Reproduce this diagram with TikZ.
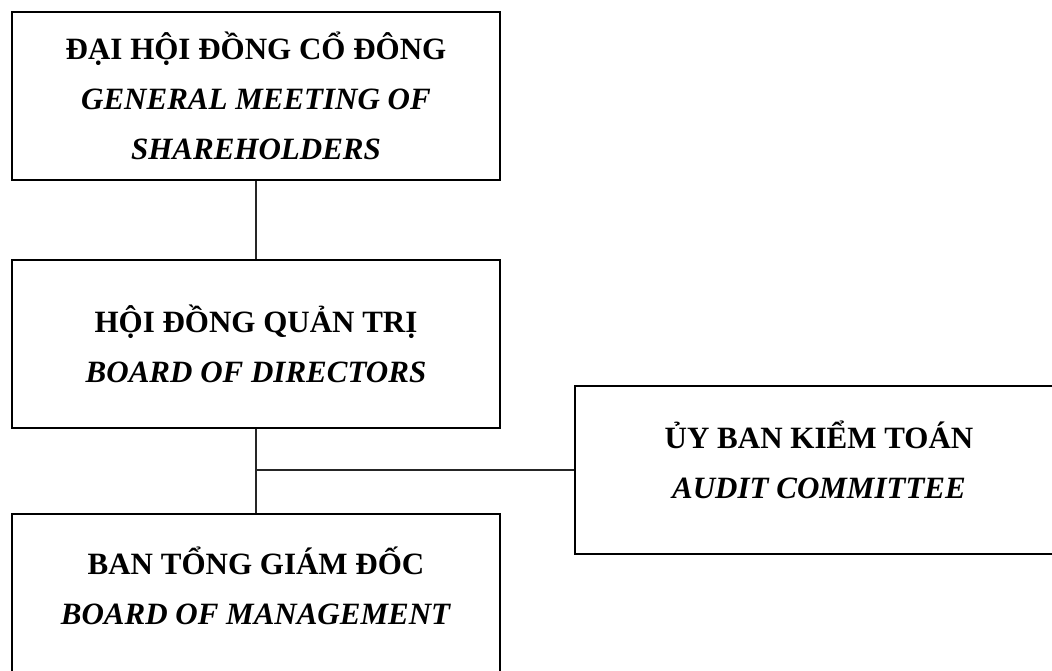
\documentclass[tikz,border=0pt]{standalone}
\usepackage{fontspec}
\setmainfont{Liberation Serif}

\begin{document}
\begin{tikzpicture}[x=0.5pt,y=-0.5pt,
    unit/.style={draw=black,line width=1pt,minimum width=244pt,minimum height=84pt,
      inner sep=0pt,align=center,font=\fontsize{15.5}{25}\selectfont\bfseries},
    link/.style={draw=black!85,line width=0.7pt}]
  \useasboundingbox (0,0) rectangle (1052,670);
  \clip (0,0) rectangle (1052,670);

  \node[unit] (gms) at (256,96) {ĐẠI HỘI ĐỒNG CỔ ĐÔNG\\\textit{GENERAL MEETING OF}\\\textit{SHAREHOLDERS}};
  \node[unit] (bod) at (256,343.5) {HỘI ĐỒNG QUẢN TRỊ\\\textit{BOARD OF DIRECTORS}};
  \node[unit,text depth=12pt] (mgmt) at (256,598) {BAN TỔNG GIÁM ĐỐC\\\textit{BOARD OF MANAGEMENT}};
  \node[unit,text depth=10pt] (audit) at (819,470) {ỦY BAN KIỂM TOÁN\\\textit{AUDIT COMMITTEE}};

  \draw[link] (gms.south) -- (bod.north);
  \draw[link] (bod.south) -- (mgmt.north);
  \draw[link] (bod.south |- audit.west) -- (audit.west);
\end{tikzpicture}
\end{document}
